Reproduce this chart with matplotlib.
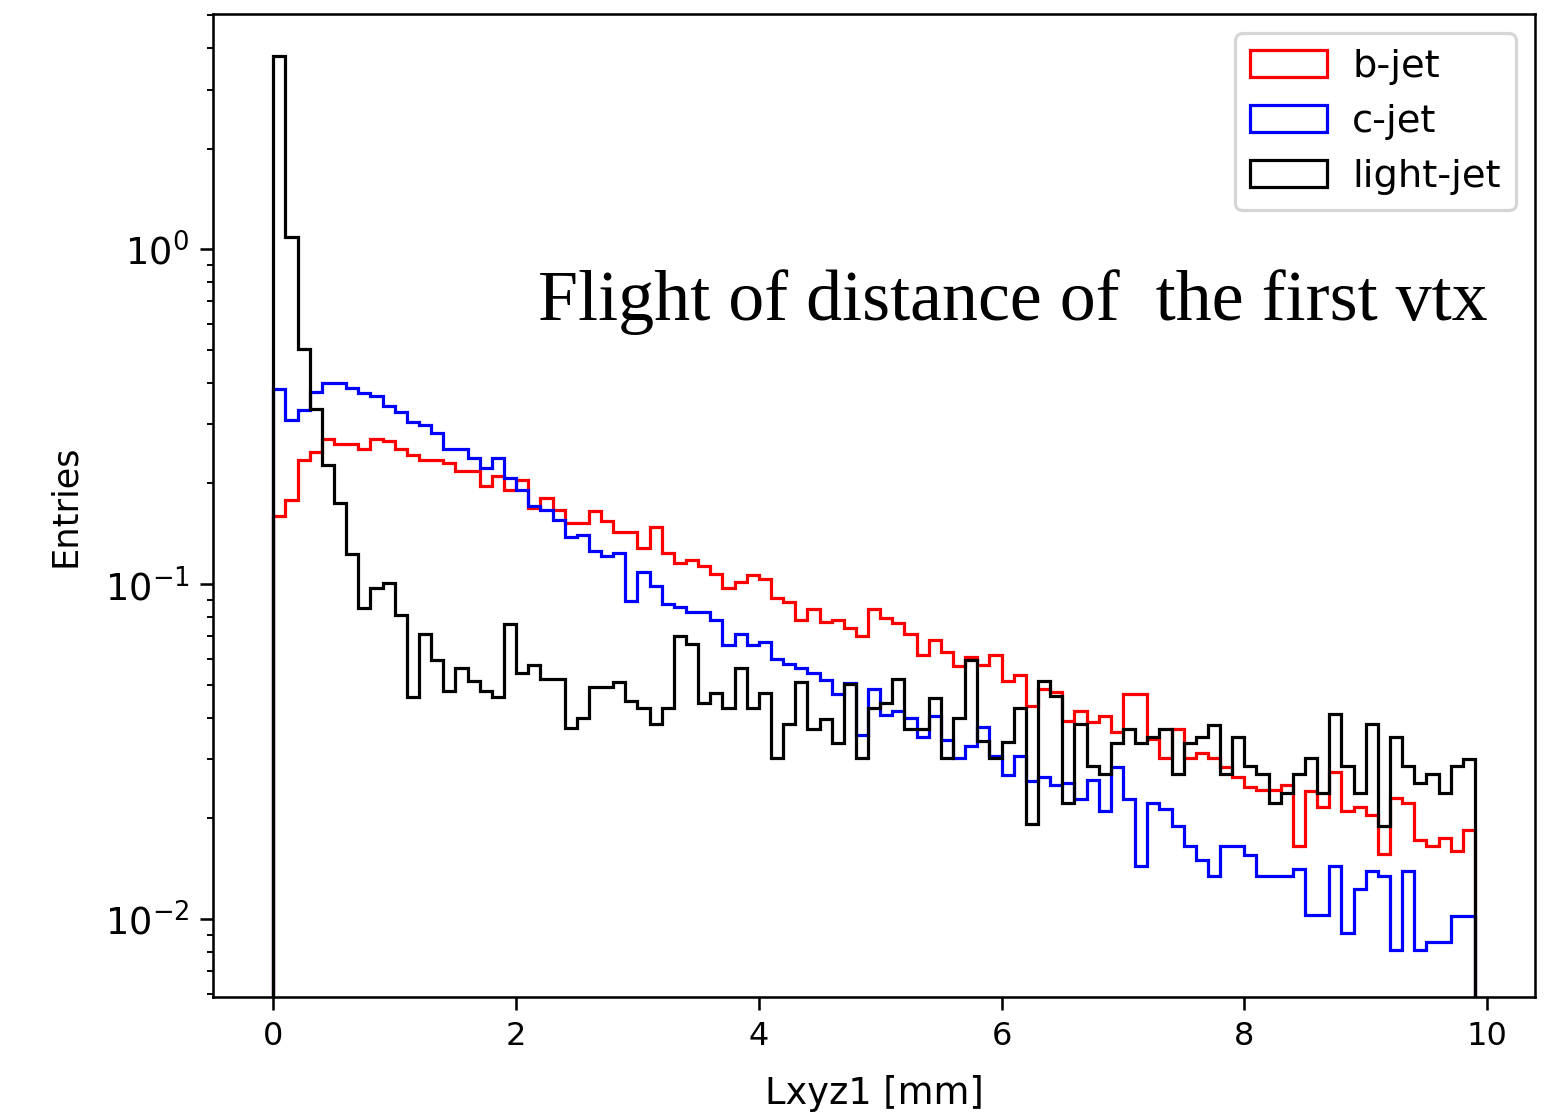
import matplotlib
matplotlib.use("Agg")
import matplotlib.pyplot as plt
import numpy as np

# ---------------------------------------------------------------------------
# Data: normalised Lxyz1 histograms (99 bins of 0.1 mm from 0 to 9.9 mm)
# ---------------------------------------------------------------------------

bin_edges = np.linspace(0.0, 9.9, 100)

b_jet = [
    0.160, 0.178, 0.2355, 0.248, 0.272, 0.263, 0.262, 0.254, 0.272, 0.268,
    0.254, 0.2436, 0.2355, 0.2355, 0.230, 0.218, 0.218, 0.196, 0.210, 0.1917,
    0.205, 0.169, 0.181, 0.167, 0.152, 0.152, 0.165, 0.154, 0.1434, 0.1434,
    0.1285, 0.148, 0.124, 0.116, 0.118, 0.1133, 0.1075, 0.0976, 0.1017, 0.1065,
    0.1034, 0.0912, 0.0887, 0.0785, 0.0841, 0.0773, 0.0785, 0.0742, 0.070, 0.0841,
    0.0791, 0.0767, 0.0712, 0.0615, 0.068, 0.0629, 0.057, 0.0607, 0.0574, 0.0615,
    0.0514, 0.0535, 0.0433, 0.0486, 0.0478, 0.0391, 0.0419, 0.0389, 0.0405, 0.0363,
    0.0469, 0.0469, 0.0345, 0.0303, 0.0369, 0.0303, 0.0313, 0.0303, 0.0285, 0.0265,
    0.0249, 0.0243, 0.0243, 0.0252, 0.0165, 0.0242, 0.0217, 0.0276, 0.021, 0.0217,
    0.0205, 0.01566, 0.023, 0.0223, 0.0172, 0.0165, 0.0175, 0.01595, 0.01846,
]

c_jet = [
    0.383, 0.310, 0.332, 0.376, 0.399, 0.399, 0.385, 0.372, 0.364, 0.340,
    0.328, 0.306, 0.298, 0.283, 0.254, 0.254, 0.239, 0.222, 0.238, 0.2077,
    0.1917, 0.171, 0.167, 0.156, 0.138, 0.1408, 0.126, 0.1213, 0.124, 0.0891,
    0.1087, 0.0988, 0.0871, 0.0855, 0.0826, 0.0826, 0.078, 0.0657, 0.0712, 0.0657,
    0.0672, 0.0597, 0.0577, 0.0561, 0.0545, 0.0517, 0.0472, 0.0509, 0.0355, 0.0486,
    0.0406, 0.0419, 0.040, 0.035, 0.0405, 0.0342, 0.0303, 0.033, 0.0374, 0.0308,
    0.027, 0.0308, 0.0259, 0.0265, 0.0252, 0.0255, 0.0228, 0.026, 0.021, 0.0285,
    0.0228, 0.01445, 0.0223, 0.0213, 0.019, 0.0165, 0.01503, 0.01349, 0.0165, 0.0165,
    0.0156, 0.01349, 0.01349, 0.01349, 0.0141, 0.0103, 0.0103, 0.01445, 0.00909, 0.0123,
    0.01396, 0.01349, 0.00807, 0.01396, 0.0081, 0.00854, 0.00854, 0.01026, 0.01026,
]

light_jet = [
    3.79, 1.09, 0.504, 0.333, 0.2266, 0.175, 0.123, 0.0847, 0.0976, 0.101,
    0.081, 0.0461, 0.0712, 0.0593, 0.048, 0.0561, 0.0514, 0.048, 0.0461, 0.0763,
    0.0545, 0.0574, 0.0523, 0.0523, 0.0372, 0.040, 0.0494, 0.0494, 0.0512, 0.0449,
    0.0428, 0.0384, 0.0428, 0.070, 0.0665, 0.0443, 0.0475, 0.0428, 0.0561, 0.0428,
    0.0475, 0.0304, 0.0384, 0.0512, 0.0369, 0.0396, 0.0337, 0.0505, 0.0303, 0.0428,
    0.0443, 0.052, 0.0369, 0.0369, 0.0459, 0.0303, 0.0398, 0.0593, 0.0341, 0.0304,
    0.0339, 0.0428, 0.0192, 0.0514, 0.0464, 0.0222, 0.0382, 0.0287, 0.0271, 0.0337,
    0.0369, 0.0337, 0.0349, 0.0369, 0.0271, 0.0337, 0.035, 0.038, 0.0271, 0.0349,
    0.0287, 0.0271, 0.0223, 0.0239, 0.0271, 0.0304, 0.0239, 0.0411, 0.0287, 0.0239,
    0.0382, 0.019, 0.0349, 0.0287, 0.0256, 0.0271, 0.0239, 0.0287, 0.0301,
]

series = [
    ("b-jet", b_jet, "red"),
    ("c-jet", c_jet, "blue"),
    ("light-jet", light_jet, "black"),
]

# ---------------------------------------------------------------------------
# Plot
# ---------------------------------------------------------------------------

DPI = 230
fig = plt.figure(figsize=(1567 / DPI, 1115 / DPI), dpi=DPI)
ax = fig.add_axes([0.1361, 0.1056, 0.9796 - 0.1361, 0.9874 - 0.1056])

centers = 0.5 * (bin_edges[:-1] + bin_edges[1:])
for label, values, color in series:
    ax.hist(centers, bins=bin_edges, weights=values, histtype="step",
            color=color, linewidth=1.0, label=label)

ax.set_yscale("log")
ax.set_ylim(0.00585, 5.04)
ax.set_xticks([0, 2, 4, 6, 8, 10])
ax.tick_params(axis="x", labelsize=10, length=4)
ax.tick_params(axis="y", which="major", labelsize=11.5, length=4)
ax.set_xlabel("Lxyz1 [mm]", fontsize=11.5, labelpad=7)
ax.set_ylabel("Entries", fontsize=11, labelpad=7)
ax.legend(loc="upper right", fontsize=12, handletextpad=0.65)

ax.text(0.2457, 0.6888, "Flight of distance of  the first vtx",
        transform=ax.transAxes, ha="left", va="baseline",
        family=["Liberation Serif", "DejaVu Serif"], fontsize=22.5)

fig.savefig("out.png", dpi=DPI)
